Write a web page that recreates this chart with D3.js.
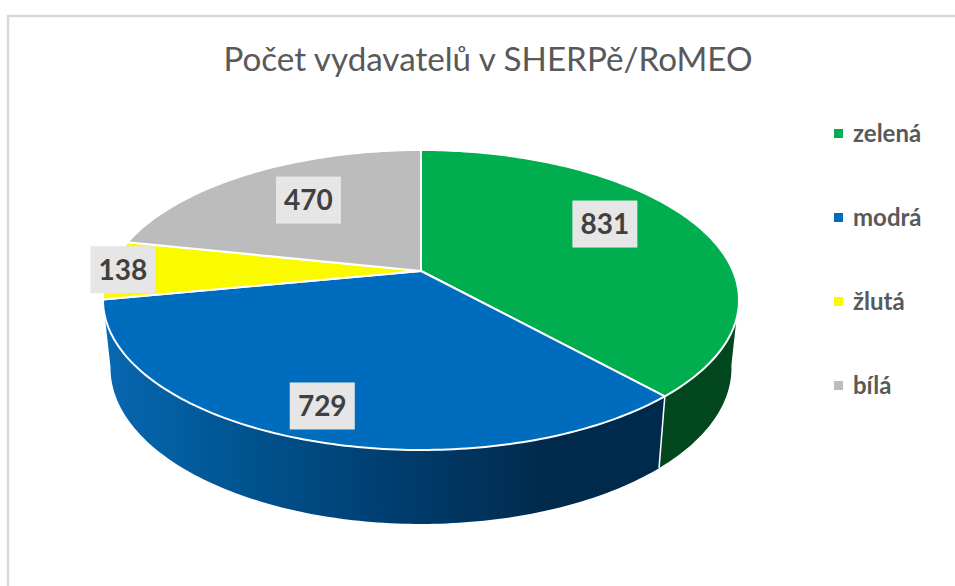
<!DOCTYPE html>
<meta charset="utf-8">
<style>
    body { margin: 0; background: #ffffff; }
    svg { display: block; }
    text { font-family: Lato, "Open Sans", sans-serif; }
    .title { font-size: 33.2px; fill: #595959; }
    .legend text { font-size: 24px; font-weight: 700; fill: #595959; }
    .labels text { font-size: 28px; font-weight: 700; fill: #404040; text-anchor: middle; }
</style>
<svg width="955" height="586"></svg>
<script src="https://d3js.org/d3.v7.min.js"></script>
<script>

    var categories = ["zelená", "modrá", "žlutá", "bílá"];
    var values = [831, 729, 138, 470];
    var colors = ["#00ae4f", "#006cbd", "#fbfb00", "#bcbcbc"];
    var titleText = "Počet vydavatelů v SHERPě/RoMEO";

    var svg = d3.select("svg");

    // 3D look: the pie is a flat disk seen in perspective, k squeezes the far half
    var k = 0.1933;
    var topDisk = { cx: 421, cy: 271, rx: 312, ry: 144.4 };
    var baseDisk = { cx: 421, cy: 338, rx: 304.6, ry: 150 };

    function project(disk, a) {
        var X = Math.sin(a), Y = Math.cos(a), w = 1 + k * Y;
        return [disk.cx + X * disk.rx / w, disk.cy - Y * disk.ry / w];
    }

    function arcPoints(disk, a0, a1) {
        var n = Math.max(2, Math.ceil(Math.abs(a1 - a0) * 60));
        return d3.range(n + 1).map(function (i) {
            return project(disk, a0 + (a1 - a0) * i / n);
        });
    }

    var line = d3.line();
    var arcs = d3.pie().sort(null)(values);

    // frame (only top and left are visible in the screenshot)
    svg.append("path")
        .attr("d", "M8,586V16H955")
        .attr("fill", "none")
        .attr("stroke", "#d9d9d9")
        .attr("stroke-width", 2.5);

    svg.append("text")
        .attr("class", "title")
        .attr("x", 488)
        .attr("y", 71)
        .attr("text-anchor", "middle")
        .text(titleText);

    var grad = svg.append("defs").append("linearGradient")
        .attr("id", "blueWall")
        .attr("gradientUnits", "userSpaceOnUse")
        .attr("x1", 103).attr("x2", 660).attr("y1", 0).attr("y2", 0);
    [[0, "#0868b2"], [0.25, "#005490"], [0.5, "#003f72"], [0.8, "#002a4c"], [1, "#002a4c"]].forEach(function (s) {
        grad.append("stop").attr("offset", s[0]).attr("stop-color", s[1]);
    });

    // visible part of the side wall
    var frontStart = 100 * Math.PI / 180, frontEnd = 262 * Math.PI / 180;
    var wallFills = ["#03471f", "url(#blueWall)"];

    var walls = arcs.slice(0, 2).map(function (d, i) {
        var a0 = Math.max(d.startAngle, frontStart), a1 = Math.min(d.endAngle, frontEnd);
        return { a0: a0, a1: a1, fill: wallFills[i] };
    });

    svg.append("g").selectAll("path")
        .data(walls)
        .enter().append("path")
        .attr("d", function (d) {
            return line(arcPoints(topDisk, d.a0, d.a1).concat(arcPoints(baseDisk, d.a1, d.a0))) + "Z";
        })
        .attr("fill", function (d) { return d.fill; });

    // seam between the blue and green wall
    svg.append("path")
        .attr("d", line([project(topDisk, arcs[0].endAngle), project(baseDisk, arcs[0].endAngle)]))
        .attr("stroke", "#ffffff")
        .attr("stroke-width", 1.5);

    svg.append("g").selectAll("path")
        .data(arcs)
        .enter().append("path")
        .attr("d", function (d) {
            return line([[topDisk.cx, topDisk.cy]].concat(arcPoints(topDisk, d.startAngle, d.endAngle))) + "Z";
        })
        .attr("fill", function (d, i) { return colors[i]; })
        .attr("stroke", "#ffffff")
        .attr("stroke-width", 2)
        .attr("stroke-linejoin", "round");

    // data labels start from the slice's mid angle on the rim, pulled in toward the center
    var labelReachX = [0.675, 0.814, 0.957, 0.659];
    var labelReachY = [0.97, 0.805, 1, 0.727];
    var boxW = 65, boxH = 47;

    var labels = svg.append("g").attr("class", "labels")
        .selectAll("g")
        .data(arcs)
        .enter().append("g")
        .attr("transform", function (d, i) {
            var a = (d.startAngle + d.endAngle) / 2;
            var p = project(topDisk, a);
            var x = topDisk.cx + (p[0] - topDisk.cx) * labelReachX[i];
            var y = topDisk.cy + (p[1] - topDisk.cy) * labelReachY[i];
            return "translate(" + x + "," + y + ")";
        });

    labels.append("rect")
        .attr("x", -boxW / 2)
        .attr("y", -boxH / 2)
        .attr("width", boxW)
        .attr("height", boxH)
        .attr("fill", "#e6e6e6");

    labels.append("text")
        .attr("y", 10)
        .text(function (d) { return d.value; });

    // legend
    var legendY = d3.scalePoint().domain(categories).range([134, 386]);

    var legend = svg.append("g").attr("class", "legend")
        .selectAll("g")
        .data(categories)
        .enter().append("g")
        .attr("transform", function (d) { return "translate(834," + legendY(d) + ")"; });

    legend.append("rect")
        .attr("y", -5)
        .attr("width", 9)
        .attr("height", 9)
        .attr("fill", function (d, i) { return colors[i]; });

    legend.append("text")
        .attr("x", 19)
        .attr("y", 8)
        .text(function (d) { return d; });

</script>
